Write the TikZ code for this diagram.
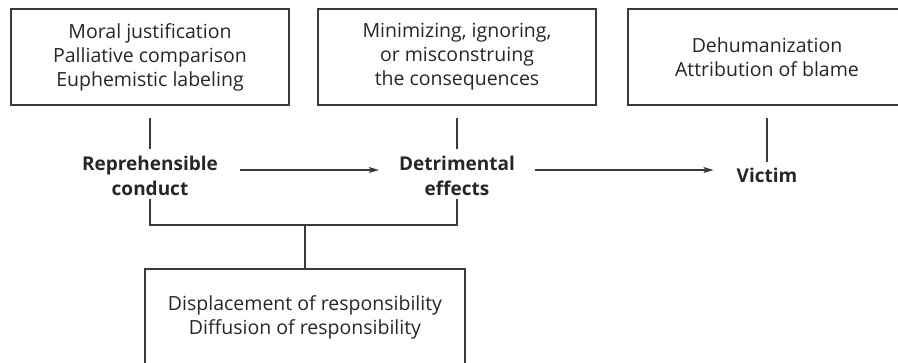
\documentclass[tikz,border=0pt]{standalone}
\usepackage{fontspec}
\setmainfont{Open Sans}
\usetikzlibrary{arrows.meta}
\definecolor{ln}{HTML}{3A3A3A}
\definecolor{tx}{HTML}{262626}
\tikzset{
  box/.style={draw=ln, line width=1.4pt, minimum width=278pt, minimum height=96pt, inner sep=0pt, align=center, text=tx, font=\fontsize{19.5}{24}\selectfont},
  lbl/.style={inner sep=0pt, align=center, text=tx, font=\fontsize{19}{25}\selectfont\bfseries},
  con/.style={draw=ln, line width=1.2pt},
  arr/.style={con, -{Stealth[length=10pt,width=6pt,inset=2pt]}}
}
\begin{document}
\begin{tikzpicture}[x=1pt,y=-1pt]
\useasboundingbox (0,0) rectangle (898,362);
\clip (0,0) rectangle (898,362);
\node[box] (b1) at (150,57) {Moral justification\\Palliative comparison\\Euphemistic labeling};
\node[box] (b2) at (457,57) {Minimizing, ignoring,\\or misconstruing\\the consequences};
\node[box] (b3) at (767,57) {Dehumanization\\Attribution of blame};
\node[box, minimum width=320pt] (b4) at (305,317) {Displacement of responsibility\\Diffusion of responsibility};
\node[lbl] (rc) at (150,176) {Reprehensible\\conduct};
\node[lbl] (de) at (457,176) {Detrimental\\effects};
\node[lbl] (vi) at (767,175) {Victim};
\coordinate (j) at (305,225);
\draw[con, shorten <=12pt] (b1.south) -- ([yshift=7pt]rc.north);
\draw[con, shorten <=12pt] (b2.south) -- ([yshift=7pt]de.north);
\draw[con, shorten <=12pt] (b3.south) -- ([yshift=5pt]vi.north);
\draw[arr] ([xshift=22pt,yshift=6pt]rc.east) -- ([xshift=-20pt,yshift=6pt]de.west);
\draw[arr] ([xshift=20pt,yshift=6pt]de.east) -- ([xshift=-23pt,yshift=5pt]vi.west);
\draw[con] ([yshift=-3pt]rc.south) |- (j) -| ([yshift=-3pt]de.south);
\draw[con] (j) -- (b4.north);
\end{tikzpicture}
\end{document}
